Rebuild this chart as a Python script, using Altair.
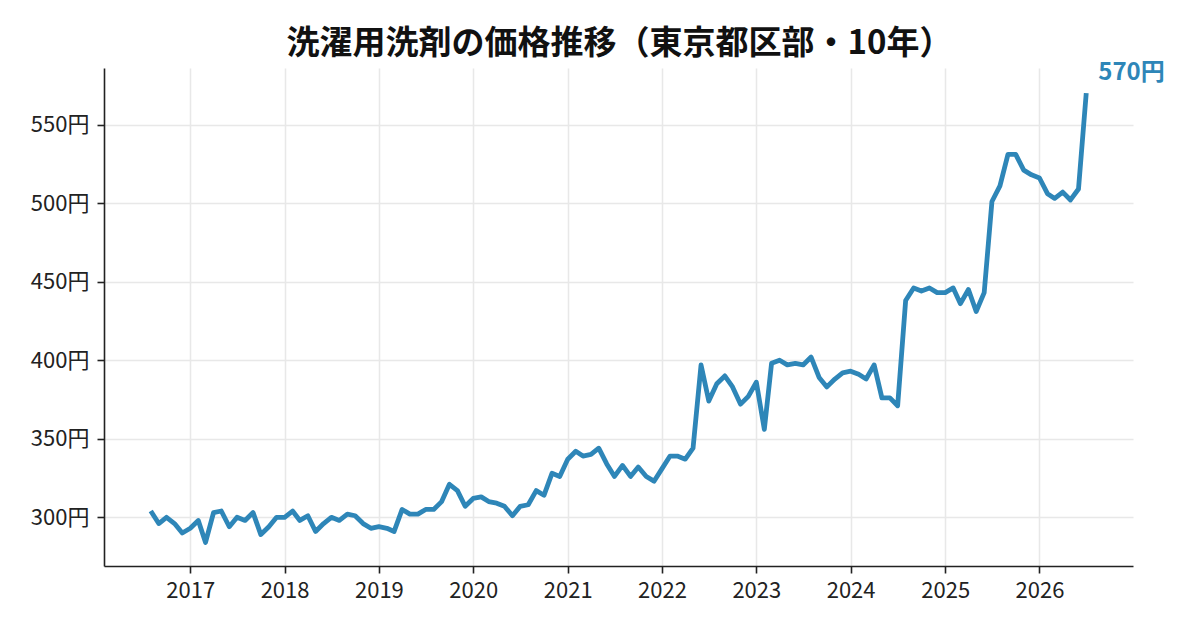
import altair as alt
import pandas as pd

# monthly price of laundry detergent, Tokyo wards (yen), 2016-08 .. 2026-07
start_month = "2016-08-01"
prices = [
    304, 296, 300, 296, 290, 293, 298, 284, 303, 304, 294, 300,
    298, 303, 289, 294, 300, 300, 304, 298, 301, 291, 296, 300,
    298, 302, 301, 296, 293, 294, 293, 291, 305, 302, 302, 305,
    305, 310, 321, 317, 307, 312, 313, 310, 309, 307, 301, 307,
    308, 317, 314, 328, 326, 337, 342, 339, 340, 344, 334, 326,
    333, 326, 332, 326, 323, 331, 339, 339, 337, 344, 397, 374,
    385, 390, 383, 372, 377, 386, 356, 398, 400, 397, 398, 397,
    402, 389, 383, 388, 392, 393, 391, 388, 397, 376, 376, 371,
    438, 446, 444, 446, 443, 443, 446, 436, 445, 431, 443, 501,
    511, 531, 531, 521, 518, 516, 506, 503, 507, 502, 509, 570,
]
y_ticks = [300, 350, 400, 450, 500, 550]
title = "洗濯用洗剤の価格推移（東京都区部・10年）"

col = "#2E86B8"
font = "Noto Sans CJK JP"

df = pd.DataFrame({
    "date": pd.date_range(start_month, periods=len(prices), freq="MS"),
    "price": prices,
})
last = df.tail(1).copy()
last["label"] = last["price"].astype(int).astype(str) + "円"

x_enc = alt.X("date:T",
              scale=alt.Scale(domain=["2016-02-02", "2026-12-29"], nice=False),
              axis=alt.Axis(title=None, format="%Y",
                            tickCount=alt.TickCount(interval="year", step=1),
                            labelPadding=7))
y_enc = alt.Y("price:Q",
              scale=alt.Scale(domain=[269, 586], nice=False, zero=False),
              axis=alt.Axis(title=None, values=y_ticks,
                            labelExpr="datum.value + '円'",
                            labelPadding=8))

line = alt.Chart(df).mark_line(
    color=col, strokeWidth=4.8, strokeJoin="round"
).encode(x=x_enc, y=y_enc)

label = alt.Chart(last).mark_text(
    align="left", baseline="alphabetic", dx=12, dy=-13,
    fontSize=24, fontWeight="bold", color=col, font=font
).encode(x="date:T", y="price:Q", text="label:N")

chart = alt.layer(line, label).properties(
    width=1029,
    height=498,
    autosize=alt.AutoSizeParams(type="none"),
    padding={"left": 96, "top": 60, "right": 59, "bottom": 56},
    title=alt.TitleParams(title, fontSize=33, fontWeight="bold", font=font,
                          color="#111111", anchor="middle", offset=0, dx=1),
).configure_view(
    stroke=None
).configure_axis(
    labelFont=font,
    labelFontSize=22,
    labelColor="#222222",
    domainColor="#222222",
    domainWidth=1.6,
    tickColor="#222222",
    tickWidth=1.6,
    tickSize=7,
    gridColor="#e8e8e8",
    gridWidth=1.5,
)

chart.save("out.html", embed_options={"renderer": "svg", "actions": False})
